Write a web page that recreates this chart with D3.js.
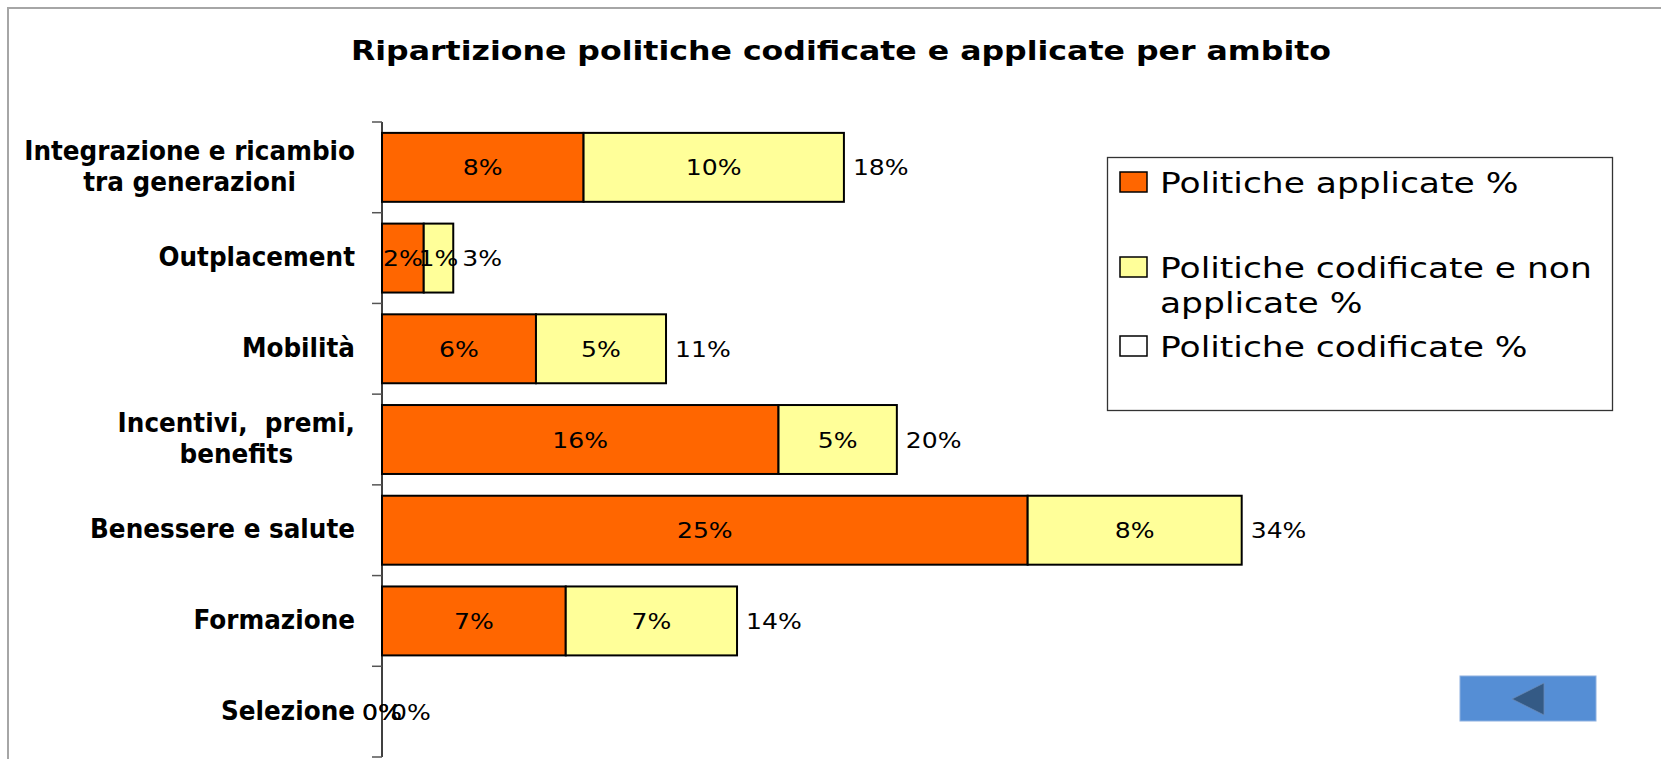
<!DOCTYPE html>
<html>
<head>
<meta charset="utf-8">
<script src="https://cdn.jsdelivr.net/npm/d3@7"></script>
<style>
  body { margin: 0; background: #fff; }
  text { font-family: "DejaVu Sans", sans-serif; white-space: pre; }
</style>
</head>
<body>
<div id="graph"></div>
<script>
// values (percent)
var categories = ["Integrazione e ricambio\ntra generazioni", "Outplacement", "Mobilità",
    "Incentivi,  premi,\nbenefits", "Benessere e salute", "Formazione", "Selezione"];
var applicate = [7.92, 1.64, 6.05, 15.58, 25.37, 7.22, 0];
var nonApplicate = [10.23, 1.16, 5.11, 4.65, 8.41, 6.73, 0];
var codificate = [18.15, 2.80, 11.16, 20.23, 33.78, 13.95, 0];
var seriesNames = ["Politiche applicate %", "Politiche codificate e non\napplicate %", "Politiche codificate %"];
var seriesColors = ["#ff6600", "#ffff99", "#ffffff"];
var title = "Ripartizione politiche codificate e applicate per ambito";

var W = 1661, H = 759;

var svg = d3.select("#graph").append("svg")
    .attr("width", W)
    .attr("height", H);

// stretch text horizontally (the original picture is wider than the font)
function stretch(sel, k) {
    sel.each(function () {
        var w = this.getComputedTextLength();
        d3.select(this).attr("textLength", w * k).attr("lengthAdjust", "spacingAndGlyphs");
    });
}

// chart frame
svg.append("rect")
    .attr("x", 8).attr("y", 8)
    .attr("width", 1700).attr("height", 800)
    .attr("fill", "#fff")
    .attr("stroke", "#a6a6a6")
    .attr("stroke-width", 2);

svg.append("text")
    .attr("x", 841).attr("y", 60)
    .attr("text-anchor", "middle")
    .style("font-size", "27px")
    .style("font-weight", "bold")
    .text(title)
    .call(stretch, 1.17);

var x = d3.scaleLinear()
    .domain([0, 50])
    .range([382, 382 + 50 * 25.45]);

var y = d3.scaleBand()
    .domain(categories)
    .range([122, 757])
    .paddingInner(0.24)
    .paddingOuter(0.12);

var rows = categories.map(function (c, i) {
    return { cat: c, a: applicate[i], n: nonApplicate[i], tot: codificate[i] };
});

var stack = d3.stack().keys(["a", "n"]);
var layers = stack(rows);

var g = svg.append("g");

layers.forEach(function (layer, li) {
    g.selectAll(".bar" + li)
        .data(layer)
        .enter().append("rect")
        .attr("class", "bar" + li)
        .attr("x", function (d) { return x(d[0]); })
        .attr("y", function (d) { return y(d.data.cat); })
        .attr("width", function (d) { return x(d[1]) - x(d[0]); })
        .attr("height", y.bandwidth())
        .attr("fill", seriesColors[li])
        .attr("stroke", "#000")
        .attr("stroke-width", 2)
        .style("display", function (d) { return d[1] - d[0] > 0 ? null : "none"; });
});

// value labels in the middle of each segment
layers.forEach(function (layer, li) {
    g.selectAll(".lab" + li)
        .data(layer)
        .enter().append("text")
        .attr("class", "lab" + li)
        .attr("x", function (d) { return (x(d[0]) + x(d[1])) / 2; })
        .attr("y", function (d) { return y(d.data.cat) + y.bandwidth() / 2 + 8; })
        .attr("text-anchor", "middle")
        .style("font-size", "22px")
        .text(function (d) { return Math.round(d[1] - d[0]) + "%"; })
        .call(stretch, 1.14);
});

// totals ("Politiche codificate %") just right of the bars
g.selectAll(".tot")
    .data(rows)
    .enter().append("text")
    .attr("class", "tot")
    .attr("x", function (d) { return x(d.tot) + 9; })
    .attr("y", function (d) { return y(d.cat) + y.bandwidth() / 2 + 8; })
    .style("font-size", "22px")
    .text(function (d) { return Math.round(d.tot) + "%"; })
    .call(stretch, 1.14);

// category axis
var axis = svg.append("g");
axis.append("line")
    .attr("x1", x(0)).attr("x2", x(0))
    .attr("y1", y.range()[0]).attr("y2", y.range()[1])
    .attr("stroke", "#000").attr("stroke-width", 1.5);

var bounds = categories.map(function (c) { return y(c) - y.step() * y.paddingInner() / 2; });
bounds.push(y.range()[1]);
axis.selectAll(".tick")
    .data(bounds)
    .enter().append("line")
    .attr("x1", x(0) - 10).attr("x2", x(0))
    .attr("y1", function (d) { return d; }).attr("y2", function (d) { return d; })
    .attr("stroke", "#555").attr("stroke-width", 1.5);

categories.forEach(function (c) {
    var lines = c.split("\n");
    var cy = y(c) + y.bandwidth() / 2;
    var t = axis.append("g");
    var texts = t.selectAll("text")
        .data(lines)
        .enter().append("text")
        .attr("y", function (d, i) { return cy + 8 + (i - (lines.length - 1) / 2) * 31; })
        .attr("text-anchor", "middle")
        .style("font-size", "26px")
        .style("font-weight", "bold")
        .text(function (d) { return d; })
        .call(stretch, 0.95);
    var wmax = d3.max(texts.nodes(), function (n) { return +n.getAttribute("textLength"); });
    texts.attr("x", 355 - wmax / 2);
});

// legend
var leg = svg.append("g");
leg.append("rect")
    .attr("x", 1107.5).attr("y", 157.5)
    .attr("width", 505).attr("height", 253)
    .attr("fill", "#fff")
    .attr("stroke", "#333")
    .attr("stroke-width", 1.3);

var legY = [172, 257, 336];
seriesNames.forEach(function (name, i) {
    leg.append("rect")
        .attr("x", 1120).attr("y", legY[i])
        .attr("width", 27).attr("height", 20)
        .attr("fill", seriesColors[i])
        .attr("stroke", "#000")
        .attr("stroke-width", 1.5);
    name.split("\n").forEach(function (line, j) {
        leg.append("text")
            .attr("x", 1160)
            .attr("y", legY[i] + 21 + j * 35)
            .style("font-size", "27.8px")
            .text(line)
            .call(stretch, 1.24);
    });
});

// back button
svg.append("rect")
    .attr("x", 1460).attr("y", 676)
    .attr("width", 136).attr("height", 45)
    .attr("fill", "#558ed5")
    .attr("stroke", "#8db0e0")
    .attr("stroke-width", 1);
svg.append("path")
    .attr("d", "M1512,699L1544,683L1544,715Z")
    .attr("fill", "#345a85")
    .attr("stroke", "#6b8cb8")
    .attr("stroke-width", 0.8);
</script>
</body>
</html>
